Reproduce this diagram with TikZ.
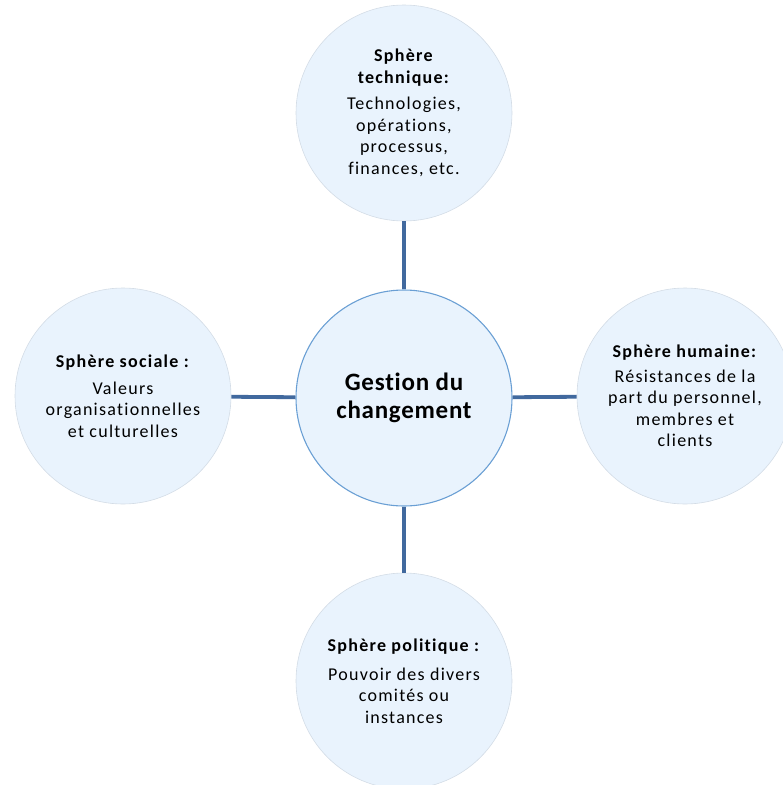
\documentclass[tikz,border=0pt]{standalone}
\usepackage{fontspec}
\setmainfont{Carlito}[Ligatures=NoCommon,LetterSpace=3]
\newfontfamily\widefont{Carlito}[Ligatures=NoCommon,LetterSpace=7]
\definecolor{circfill}{HTML}{E9F3FD}
\definecolor{circedge}{HTML}{D3DCE6}
\definecolor{centeredge}{HTML}{6A9FD4}
\definecolor{linkcol}{HTML}{41699E}
\begin{document}
\begin{tikzpicture}[x=1pt,y=-1pt,
  sphere/.style={circle,minimum size=216pt,inner sep=0pt,fill=circfill,draw=circedge,line width=0.6pt,align=center,font=\widefont\fontsize{18}{21.5}\selectfont},
  hub/.style={circle,minimum size=216pt,inner sep=0pt,fill=circfill,draw=centeredge,line width=1.1pt,align=center,font=\bfseries\fontsize{25}{28.5}\selectfont},
  link/.style={draw=linkcol,line width=3.8pt}]
\useasboundingbox (0,0) rectangle (783,785);
\node[hub] (c) at (404,398) {Gestion du\\changement};
\node[sphere] (t) at (404,113) {\textbf{Sphère}\\\textbf{technique:}\\[5pt]Technologies,\\opérations,\\processus,\\finances, etc.};
\node[sphere] (l) at (123,396) {\textbf{Sphère sociale :}\\[5pt]Valeurs\\organisationnelles\\et culturelles};
\node[sphere] (r) at (685,396) {\textbf{Sphère humaine:}\\[3pt]Résistances de la\\part du personnel,\\membres et\\clients};
\node[sphere] (b) at (404,681) {\textbf{Sphère politique :}\\[7pt]Pouvoir des divers\\comités ou\\instances};
\draw[link] (t) -- (c);
\draw[link] (l) -- (c);
\draw[link] (r) -- (c);
\draw[link] (b) -- (c);
\end{tikzpicture}
\end{document}
